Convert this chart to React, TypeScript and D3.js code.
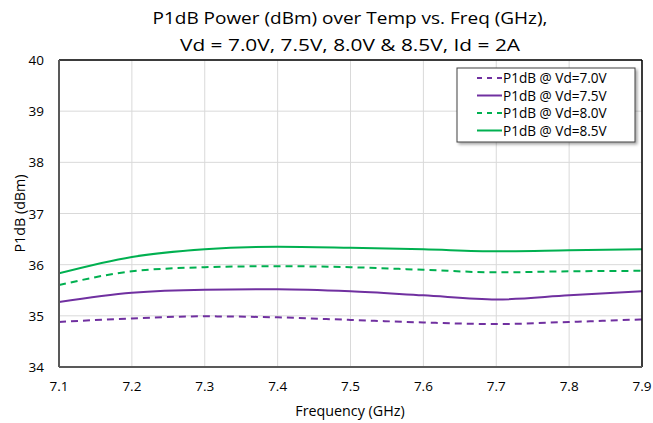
import React from 'react';
import * as d3 from 'd3';

// frequency points (GHz)
const freqs = [7.1, 7.2, 7.3, 7.4, 7.5, 7.6, 7.7, 7.8, 7.9];

// P1dB (dBm) per drain voltage
const p1dbVd70 = [34.88, 34.95, 34.99, 34.97, 34.92, 34.87, 34.84, 34.88, 34.93];
const p1dbVd75 = [35.27, 35.45, 35.51, 35.52, 35.48, 35.4, 35.32, 35.4, 35.48];
const p1dbVd80 = [35.6, 35.87, 35.95, 35.97, 35.95, 35.9, 35.85, 35.87, 35.88];
const p1dbVd85 = [35.83, 36.15, 36.3, 36.35, 36.33, 36.3, 36.26, 36.28, 36.3];

const xTicks = [7.1, 7.2, 7.3, 7.4, 7.5, 7.6, 7.7, 7.8, 7.9];
const yTicks = [34, 35, 36, 37, 38, 39, 40];

const PURPLE = '#7030A0';
const GREEN = '#00B050';

const series = [
  { name: 'P1dB @ Vd=7.0V', values: p1dbVd70, color: PURPLE, dash: '7,5' },
  { name: 'P1dB @ Vd=7.5V', values: p1dbVd75, color: PURPLE, dash: '' },
  { name: 'P1dB @ Vd=8.0V', values: p1dbVd80, color: GREEN, dash: '7,5' },
  { name: 'P1dB @ Vd=8.5V', values: p1dbVd85, color: GREEN, dash: '' },
];

const W = 653;
const H = 423;
const margin = { left: 59, right: 11, top: 60, bottom: 56 };
const FONT = "'Open Sans', sans-serif";

export default function App() {
  const x = d3.scaleLinear().domain([7.1, 7.9]).range([margin.left, W - margin.right]);
  const y = d3.scaleLinear().domain([34, 40]).range([H - margin.bottom, margin.top]);

  const line = d3
    .line<number>()
    .x((_, i) => x(freqs[i]))
    .y((d) => y(d))
    .curve(d3.curveMonotoneX);

  const x0 = margin.left;
  const x1 = W - margin.right;
  const y0 = H - margin.bottom;
  const y1 = margin.top;

  const lgX = 457;
  const lgY = 68;
  const lgW = 178;
  const lgH = 74;

  return (
    <svg width={W} height={H} style={{ position: 'absolute', left: 0, top: 0, background: '#fff' }} fontFamily={FONT}>
      <defs>
        <filter id="shadow" x="-10%" y="-10%" width="130%" height="130%">
          <feDropShadow dx="2" dy="2" stdDeviation="1.5" floodColor="#000" floodOpacity="0.35" />
        </filter>
        <clipPath id="plot">
          <rect x={x0} y={y1} width={x1 - x0} height={y0 - y1} />
        </clipPath>
      </defs>

      {/* title */}
      <text x={350} y={24} textAnchor="middle" fontSize={17} fill="#000" textLength={395} lengthAdjust="spacingAndGlyphs">
        P1dB Power (dBm) over Temp vs. Freq (GHz),
      </text>
      <text x={350} y={51} textAnchor="middle" fontSize={17} fill="#000" textLength={340} lengthAdjust="spacingAndGlyphs">
        Vd = 7.0V, 7.5V, 8.0V &amp; 8.5V, Id = 2A
      </text>

      {/* grid */}
      {xTicks.map((t) => (
        <line key={'gx' + t} x1={x(t)} x2={x(t)} y1={y1} y2={y0} stroke="#d9d9d9" strokeWidth={1} />
      ))}
      {yTicks.map((t) => (
        <line key={'gy' + t} x1={x0} x2={x1} y1={y(t)} y2={y(t)} stroke="#d9d9d9" strokeWidth={1} />
      ))}

      {/* series */}
      <g clipPath="url(#plot)">
        {series.map((s) => (
          <path
            key={s.name}
            d={line(s.values) || undefined}
            fill="none"
            stroke={s.color}
            strokeWidth={2}
            strokeDasharray={s.dash || undefined}
          />
        ))}
      </g>

      {/* frame */}
      <line x1={x0} x2={x1} y1={y1} y2={y1} stroke="#000" strokeWidth={1.5} />
      <line x1={x1} x2={x1} y1={y1} y2={y0} stroke="#000" strokeWidth={1.5} />
      <line x1={x0} x2={x0} y1={y1} y2={y0} stroke="#595959" strokeWidth={2} />
      <line x1={x0} x2={x1} y1={y0} y2={y0} stroke="#595959" strokeWidth={2} />

      {/* tick labels */}
      {yTicks.map((t) => (
        <text key={'ty' + t} x={x0 - 15} y={y(t) + 5} textAnchor="end" fontSize={13.5} fill="#000">
          {t}
        </text>
      ))}
      {xTicks.map((t) => (
        <text key={'tx' + t} x={x(t)} y={y0 + 24} textAnchor="middle" fontSize={13.5} fill="#000">
          {t.toFixed(1)}
        </text>
      ))}

      {/* axis titles */}
      <text x={350} y={416} textAnchor="middle" fontSize={14.3} fill="#000">
        Frequency (GHz)
      </text>
      <text transform={`translate(25,${(y0 + y1) / 2}) rotate(-90)`} textAnchor="middle" fontSize={14.3} fill="#000">
        P1dB (dBm)
      </text>

      {/* legend */}
      <rect x={lgX} y={lgY} width={lgW} height={lgH} fill="#fff" stroke="#404040" strokeWidth={1} filter="url(#shadow)" />
      {series.map((s, i) => {
        const ry = lgY + 10 + i * 17.5;
        return (
          <g key={'lg' + i}>
            <line x1={lgX + 20} x2={lgX + 45} y1={ry} y2={ry} stroke={s.color} strokeWidth={2} strokeDasharray={s.dash ? '5,5' : undefined} />
            <text x={lgX + 46} y={ry + 5} fontSize={13.6} fill="#000">
              {s.name}
            </text>
          </g>
        );
      })}
    </svg>
  );
}
